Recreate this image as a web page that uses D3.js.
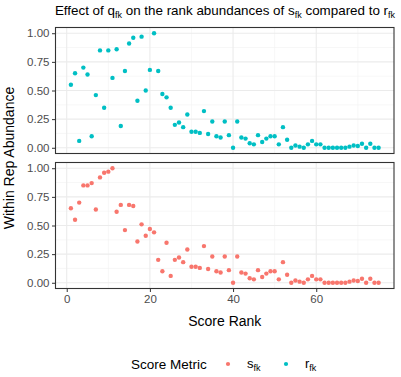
<!DOCTYPE html>
<html>
<head>
	<meta charset="utf-8">
	<title>rank abundances</title>
	<script src="https://d3js.org/d3.v7.min.js"></script>
	<style>
		body { margin: 0; background: #fff; }
		text { font-family: 'Liberation Sans', Arial, sans-serif; }
	</style>
</head>
<body>
	<div class="chart"></div>

	<script type="text/javascript">

		var ranks = [1, 2, 3, 4, 5, 6, 7, 8, 9, 10, 11, 12, 13, 14, 15, 16, 17, 18, 19, 20,
			21, 22, 23, 24, 25, 26, 27, 28, 29, 30, 31, 32, 33, 34, 35, 36, 37, 38, 39, 40,
			41, 42, 43, 44, 45, 46, 47, 48, 49, 50, 51, 52, 53, 54, 55, 56, 57, 58, 59, 60,
			61, 62, 63, 64, 65, 66, 67, 68, 69, 70, 71, 72, 73, 74, 75]

		// r_fk (top panel)
		var rValues = [0.55, 0.65, 0.06, 0.70, 0.64, 0.10, 0.46, 0.85, 0.35, 0.85,
			0.61, 0.86, 0.19, 0.67, 0.91, 0.96, 0.41, 0.97, 0.50, 0.68,
			1.00, 0.67, 0.47, 0.44, 0.35, 0.20, 0.22, 0.18, 0.29, 0.14,
			0.14, 0.13, 0.32, 0.12, 0.23, 0.10, 0.09, 0.23, 0.11, 0.00,
			0.23, 0.09, 0.08, 0.04, 0.03, 0.11, 0.05, 0.08, 0.10, 0.10,
			0.03, 0.18, 0.07, 0.00, 0.02, 0.01, 0.00, 0.03, 0.06, 0.03,
			0.03, 0.00, 0.00, 0.00, 0.00, 0.00, 0.00, 0.01, 0.02, 0.015,
			0.035, 0.00, 0.035, 0.00, 0.00]

		// s_fk (bottom panel)
		var sValues = [0.65, 0.55, 0.70, 0.85, 0.85, 0.87, 0.64, 0.92, 0.96, 0.97,
			1.00, 0.62, 0.68, 0.46, 0.68, 0.67, 0.36, 0.51, 0.41, 0.47,
			0.44, 0.20, 0.10, 0.35, 0.06, 0.20, 0.22, 0.18, 0.29, 0.14,
			0.14, 0.13, 0.32, 0.12, 0.23, 0.10, 0.09, 0.23, 0.11, 0.00,
			0.23, 0.09, 0.08, 0.04, 0.03, 0.11, 0.05, 0.08, 0.10, 0.10,
			0.03, 0.18, 0.07, 0.00, 0.02, 0.01, 0.00, 0.03, 0.06, 0.03,
			0.03, 0.00, 0.00, 0.00, 0.00, 0.00, 0.00, 0.01, 0.02, 0.015,
			0.035, 0.00, 0.035, 0.00, 0.00]

		var xTicks = [0, 20, 40, 60]
		var xMinor = [10, 30, 50, 70]
		var yTicks = [0, 0.25, 0.5, 0.75, 1]
		var yMinor = [0.125, 0.375, 0.625, 0.875]

		var metrics = ['s', 'r']
		var metricColors = ['#F8766D', '#00BFC4']

		var width = 401
		var height = 377
		var left = 55.5, right = 394
		var panelH = 126
		var panelTops = [27.5, 162.5]

		var svg = d3.select('.chart')
			.append('svg')
			.attr('width', width)
			.attr('height', height)
			.style('background-color', '#fff')

		var xScale = d3.scaleLinear().domain([-2.7, 78.7]).range([left, right])
		var yScale = d3.scaleLinear().domain([-0.05, 1.05]).range([panelH, 0])
		var colorScale = d3.scaleOrdinal().domain(metrics).range(metricColors)

		// text with "fk" subscripts: parts alternate normal / subscript
		function richText(t, parts, subSize) {
			var shift = 0
			parts.forEach(function(s, i) {
				var sub = i % 2 === 1
				var target = sub ? 2.5 : 0
				t.append('tspan')
					.text(s)
					.attr('dy', target - shift)
					.style('font-size', sub ? subSize : null)
				shift = target
			})
		}

		var title = svg.append('text')
			.attr('x', 225)
			.attr('y', 15)
			.attr('text-anchor', 'middle')
			.style('font-size', '13.4px')
			.style('fill', '#000')
		richText(title, ['Effect of q', 'fk', ' on the rank abundances of s', 'fk', ' compared to r', 'fk'], '9px')

		var panels = [
			{ metric: 'r', values: rValues },
			{ metric: 's', values: sValues }
		]

		panels.forEach(function(p, idx) {
			var g = svg.append('g').attr('transform', `translate(0, ${panelTops[idx]})`)

			// grid
			g.selectAll('.ymin').data(yMinor).enter().append('line')
				.attr('x1', left).attr('x2', right)
				.attr('y1', d => yScale(d)).attr('y2', d => yScale(d))
				.attr('stroke', '#F2F2F2').attr('stroke-width', 0.6)
			g.selectAll('.xmin').data(xMinor).enter().append('line')
				.attr('y1', 0).attr('y2', panelH)
				.attr('x1', d => xScale(d)).attr('x2', d => xScale(d))
				.attr('stroke', '#F2F2F2').attr('stroke-width', 0.6)
			g.selectAll('.ymaj').data(yTicks).enter().append('line')
				.attr('x1', left).attr('x2', right)
				.attr('y1', d => yScale(d)).attr('y2', d => yScale(d))
				.attr('stroke', '#EBEBEB').attr('stroke-width', 1.1)
			g.selectAll('.xmaj').data(xTicks).enter().append('line')
				.attr('y1', 0).attr('y2', panelH)
				.attr('x1', d => xScale(d)).attr('x2', d => xScale(d))
				.attr('stroke', '#EBEBEB').attr('stroke-width', 1.1)

			// points
			g.append('g').selectAll('circle')
				.data(p.values)
				.enter()
				.append('circle')
				.attr('cx', (d, i) => xScale(ranks[i]))
				.attr('cy', d => yScale(d))
				.attr('r', 2.2)
				.attr('fill', colorScale(p.metric))

			// y axis
			var yAxis = d3.axisLeft(yScale).tickValues(yTicks).tickSize(3.5).tickPadding(2.5)
				.tickFormat(d3.format('.2f'))
			var ya = g.append('g').attr('transform', `translate(${left}, 0)`).call(yAxis)
			ya.select('.domain').remove()
			ya.selectAll('line').attr('stroke', '#333')
			ya.selectAll('text').style('font-size', '11.5px').style('fill', '#4D4D4D')
				.style('font-family', "'Liberation Sans', Arial, sans-serif")

			// border
			g.append('rect')
				.attr('x', left).attr('y', 0)
				.attr('width', right - left).attr('height', panelH)
				.attr('fill', 'none').attr('stroke', '#333').attr('stroke-width', 1.1)

			if (idx === 1) {
				var xAxis = d3.axisBottom(xScale).tickValues(xTicks).tickSize(3.5).tickPadding(2.5)
				var xa = g.append('g').attr('transform', `translate(0, ${panelH})`).call(xAxis)
				xa.select('.domain').remove()
				xa.selectAll('line').attr('stroke', '#333')
				xa.selectAll('text').style('font-size', '11.5px').style('fill', '#4D4D4D')
					.style('font-family', "'Liberation Sans', Arial, sans-serif")
			}
		})

		// axis titles
		svg.append('text')
			.attr('x', (left + right) / 2)
			.attr('y', 326)
			.attr('text-anchor', 'middle')
			.style('font-size', '14px')
			.text('Score Rank')

		svg.append('text')
			.attr('transform', `translate(14, ${(panelTops[0] + panelTops[1] + panelH) / 2}) rotate(-90)`)
			.attr('text-anchor', 'middle')
			.style('font-size', '14px')
			.text('Within Rep Abundance')

		// legend
		var legend = svg.append('g').attr('transform', 'translate(0, 364)')
		legend.append('text')
			.attr('x', 131)
			.attr('y', 5)
			.style('font-size', '13.5px')
			.text('Score Metric')
		var keyX = [228, 286]
		metrics.forEach(function(m, i) {
			legend.append('circle')
				.attr('cx', keyX[i]).attr('cy', 0).attr('r', 2.1)
				.attr('fill', colorScale(m))
			var t = legend.append('text')
				.attr('x', keyX[i] + 19)
				.attr('y', 4)
				.style('font-size', '13px')
			richText(t, [m, 'fk'], '9px')
		})

	</script>
</body>
</html>
